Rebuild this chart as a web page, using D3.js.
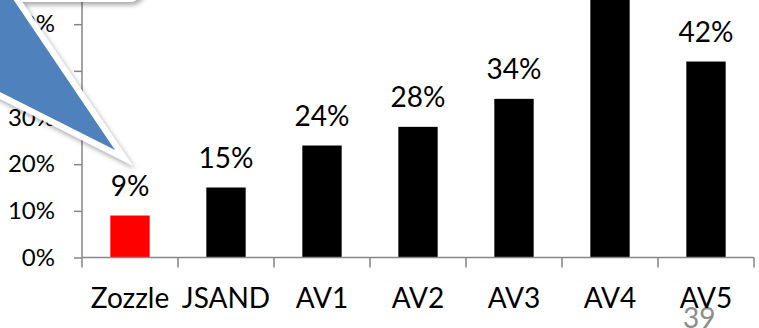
<!DOCTYPE html>
<html>
<head>
<meta charset="utf-8">
<script src="https://cdn.jsdelivr.net/npm/d3@7"></script>
<style>
  html, body { margin: 0; padding: 0; background: #fff; overflow: hidden; }
  svg { display: block; font-family: Lato, "Open Sans", sans-serif; }
</style>
</head>
<body>
<svg id="chart" width="759" height="328"></svg>
<script>
// Detection miss rate per tool
const categories = ["Zozzle", "JSAND", "AV1", "AV2", "AV3", "AV4", "AV5"];
const missRates = [0.09, 0.15, 0.24, 0.28, 0.34, 0.60, 0.42];
const barColors = ["#ff0000", "#000000", "#000000", "#000000", "#000000", "#000000", "#000000"];
const yTickValues = [0, 0.1, 0.2, 0.3, 0.4, 0.5];
const slideNumber = "39";

const svg = d3.select("#chart");
const axisColor = "#868686";

const x = d3.scaleBand().domain(categories).range([82, 754]).padding(0);
const y = d3.scaleLinear().domain([0, 0.5]).range([257.5, 24.2]);
const pct = d3.format(".0%");

// slide number sits underneath the chart
svg.append("text")
  .attr("x", 683).attr("y", 328)
  .attr("fill", "#8c8c8c")
  .attr("font-size", 28)
  .text(slideNumber);

// bars
const barW = x.bandwidth() * 0.41;
svg.append("g").selectAll("rect")
  .data(categories)
  .join("rect")
  .attr("x", (d) => x(d) + (x.bandwidth() - barW) / 2)
  .attr("y", (d, i) => y(missRates[i]))
  .attr("width", barW)
  .attr("height", (d, i) => y(0) - y(missRates[i]))
  .attr("fill", (d, i) => barColors[i]);

// value labels (only those whose bar top is inside the plotting window)
const labelled = categories
  .map((d, i) => ({ name: d, value: missRates[i] }))
  .filter((d) => y(d.value) - 48 > 0);
svg.append("g").selectAll("text")
  .data(labelled)
  .join("text")
  .attr("x", (d) => x(d.name) + x.bandwidth() / 2)
  .attr("y", (d) => y(d.value) - 20)
  .attr("text-anchor", "middle")
  .attr("font-size", 28)
  .attr("fill", "#000")
  .text((d) => pct(d.value));

// y axis
const yAxis = svg.append("g")
  .attr("transform", `translate(${x.range()[0]},0)`)
  .call(d3.axisLeft(y).tickValues(yTickValues).tickFormat(pct).tickSize(8).tickSizeOuter(0).tickPadding(19));
yAxis.select(".domain").remove();
yAxis.append("line")
  .attr("x1", 0).attr("x2", 0)
  .attr("y1", y(0)).attr("y2", -5)
  .attr("stroke", axisColor).attr("stroke-width", 1.5);
yAxis.selectAll(".tick line").attr("stroke", axisColor).attr("stroke-width", 1.5);
yAxis.selectAll(".tick text")
  .attr("font-family", "Lato, 'Open Sans', sans-serif")
  .attr("font-size", 24)
  .attr("fill", "#000");

// x axis: baseline plus ticks on band boundaries
const xg = svg.append("g");
xg.append("line")
  .attr("x1", x.range()[0]).attr("x2", x.range()[1])
  .attr("y1", y(0)).attr("y2", y(0))
  .attr("stroke", axisColor).attr("stroke-width", 1.5);
const bounds = categories.map((d) => x(d)).concat([x.range()[1]]);
xg.selectAll("line.tick")
  .data(bounds)
  .join("line")
  .attr("class", "tick")
  .attr("x1", (d) => d).attr("x2", (d) => d)
  .attr("y1", y(0)).attr("y2", y(0) + 10)
  .attr("stroke", axisColor).attr("stroke-width", 1.5);
xg.selectAll("text")
  .data(categories)
  .join("text")
  .attr("x", (d) => x(d) + x.bandwidth() / 2)
  .attr("y", 308)
  .attr("text-anchor", "middle")
  .attr("font-size", 28)
  .attr("fill", "#000")
  .text((d) => d);

// callout bubble pointing at the Zozzle bar
const defs = svg.append("defs");
const shadow = defs.append("filter").attr("id", "calloutShadow")
  .attr("x", "-20%").attr("y", "-20%").attr("width", "140%").attr("height", "140%");
shadow.append("feDropShadow")
  .attr("dx", 2).attr("dy", 3).attr("stdDeviation", 2.5)
  .attr("flood-color", "#000").attr("flood-opacity", 0.35);

const calloutPath = d3.path();
calloutPath.moveTo(-400, -200);
calloutPath.lineTo(129, -200);
calloutPath.arcTo(137, -200, 137, -192, 8);
calloutPath.lineTo(137, -12);
calloutPath.arcTo(137, -4, 129, -4, 8);
calloutPath.lineTo(11, -4);
calloutPath.lineTo(115, 150);
calloutPath.lineTo(-191, -4);
calloutPath.lineTo(-400, -4);
calloutPath.closePath();

const callout = svg.append("g");
callout.append("path")
  .attr("d", calloutPath.toString())
  .attr("fill", "#ffffff")
  .attr("stroke", "#ffffff")
  .attr("stroke-width", 12)
  .attr("stroke-linejoin", "miter")
  .attr("stroke-miterlimit", 10)
  .attr("filter", "url(#calloutShadow)");
callout.append("path")
  .attr("d", calloutPath.toString())
  .attr("fill", "#4f81bd");
</script>
</body>
</html>
